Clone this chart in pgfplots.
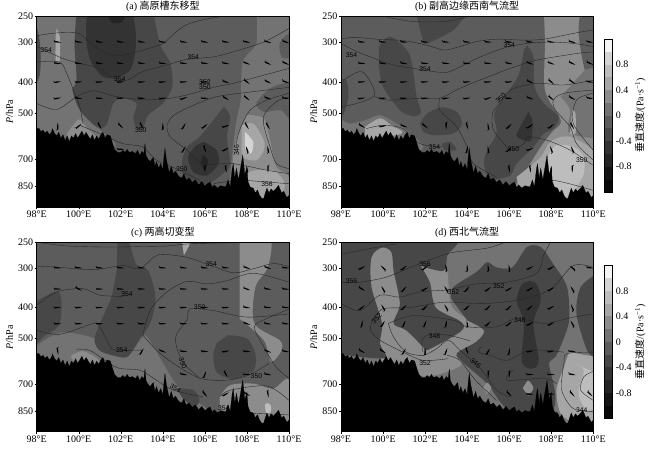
\documentclass[border=0pt]{standalone}
\usepackage{fontspec}
\setmainfont{Liberation Serif}
\newfontfamily\cjk{Noto Sans CJK SC}
\newfontfamily\lbf{Liberation Sans}
\usepackage{pgfplots}
\usepackage{pgfplotstable}
\pgfplotsset{compat=1.18}

% grey shades of the 12 colour bar classes, -1.2 to 1.2
\definecolor{L1}{gray}{.03}\definecolor{L2}{gray}{.08}\definecolor{L3}{gray}{.14}
\definecolor{L4}{gray}{.2}\definecolor{L5}{gray}{.28}\definecolor{L6}{gray}{.36}
\definecolor{L7}{gray}{.45}\definecolor{L8}{gray}{.55}\definecolor{L9}{gray}{.65}
\definecolor{L10}{gray}{.74}\definecolor{L11}{gray}{.83}\definecolor{L12}{gray}{.96}

\pgfdeclareplotmark{barb}{%
  \pgfpathmoveto{\pgfqpoint{-3.5pt}{.65pt}}
  \pgfpathlineto{\pgfqpoint{0pt}{.65pt}}
  \pgfpathlineto{\pgfqpoint{3.2pt}{.1pt}}
  \pgfpathlineto{\pgfqpoint{3.2pt}{-.1pt}}
  \pgfpathlineto{\pgfqpoint{0pt}{-.65pt}}
  \pgfpathlineto{\pgfqpoint{-3.5pt}{-.65pt}}
  \pgfpathclose
  \pgfpathmoveto{\pgfqpoint{-3.5pt}{0pt}}
  \pgfpathlineto{\pgfqpoint{-4.2pt}{1.5pt}}
  \pgfpathlineto{\pgfqpoint{-3.7pt}{1.5pt}}
  \pgfpathlineto{\pgfqpoint{-2.9pt}{0pt}}
  \pgfpathclose
  \pgfusepathqfill}

\pgfplotsset{
  panel/.style={
    scale only axis, width=252.3pt, y dir=reverse,
    xmin=98, xmax=110, ymin=250, ymax=985,
    xtick={98,100,...,110},
    xticklabels={98°E,100°E,102°E,104°E,106°E,108°E,110°E},
    ytick={250,300,400,500,700,850}, yticklabels={250,300,400,500,700,850},
    minor tick length=0pt,
    tick align=outside, major tick length=2pt, tick pos=left,
    tick style={black, line width=.5pt}, axis line style={line width=.8pt},
    axis on top,
    ylabel={\textit{P}/hPa},
    every axis y label/.style={at={(axis description cs:-.108,.5)}, rotate=90, anchor=center},
    every axis title shift=0pt,
    title style={at={(axis description cs:.5,1)}, anchor=south, inner sep=0pt, yshift=4.5pt},
    tick label style={inner sep=1.5pt},
  },
  cbar/.style={
    scale only axis, width=8pt, xmin=0, xmax=1, ymin=-1.2, ymax=1.2,
    xtick=\empty, ytick={-.8,-.4,0,.4,.8}, yticklabels={-0.8,-0.4,0,0.4,0.8},
    yticklabel pos=right, major tick length=0pt, axis on top,
    axis line style={line width=.6pt},
    ylabel={{\cjk 垂直速度}/(Pa·s\textsuperscript{−1})},
    every axis y label/.style={at={(axis description cs:4.5,.5)}, rotate=90, anchor=center},
  },
}
\newcommand\pf[2]{\addplot[fill=#1, draw=none, smooth] coordinates {#2};}
\newcommand\cl[1]{\addplot[black!85, line width=.38pt, smooth] coordinates {#1};}
\newcommand\lb[4][0]{\node[font=\lbf\fontsize{6.8}{7}\selectfont, text=black, inner sep=0pt, rotate=#1] at (axis cs:#2,#3) {#4};}
\newcommand\terr{\addplot[fill=black, draw=black, line width=.2pt] table {\terrain};}
\newcommand\cb{%
  \pgfplotsinvokeforeach{1,...,12}{%
    \pgfmathsetmacro\lo{-1.4+.2*##1}\pgfmathsetmacro\hi{-1.2+.2*##1}%
    \edef\tmp{\noexpand\addplot[fill=L##1, draw=none] coordinates {(0,\lo) (1,\lo) (1,\hi) (0,\hi)} -- cycle;}\tmp}}
% one rotated mark per row of a wind table (lon, hPa, direction)
\newcommand\drawbarbs[1]{%
  \pgfplotstablegetrowsof{#1}\pgfmathtruncatemacro\nr{\pgfplotsretval-1}%
  \pgfplotsinvokeforeach{0,...,\nr}{%
    \pgfplotstablegetelem{##1}{x}\of{#1}\edef\bx{\pgfplotsretval}%
    \pgfplotstablegetelem{##1}{y}\of{#1}\edef\by{\pgfplotsretval}%
    \pgfplotstablegetelem{##1}{a}\of{#1}\edef\ba{\pgfplotsretval}%
    \edef\tmp{\noexpand\addplot[only marks, mark=barb, mark options={fill=black, draw=none, rotate=\ba}] coordinates {(\bx,\by)};}\tmp}}

\pgfplotstableread[row sep=\\]{
x y \\
98 555\\ 98.05 562\\ 98.1 558\\ 98.2 572\\ 98.3 566\\ 98.4 578\\ 98.5 570\\ 98.6 585\\ 98.7 575\\ 98.75 560\\ 98.85 580\\
98.95 590\\ 99.05 575\\ 99.15 600\\ 99.25 585\\ 99.35 610\\ 99.45 590\\ 99.55 615\\ 99.65 590\\ 99.75 600\\ 99.85 580\\
99.95 600\\ 100.05 585\\ 100.15 570\\ 100.25 590\\ 100.35 575\\ 100.45 590\\ 100.55 605\\ 100.65 585\\ 100.75 610\\ 100.85 590\\
100.95 605\\ 101.05 585\\ 101.15 575\\ 101.25 600\\ 101.35 585\\ 101.5 590\\ 101.6 620\\ 101.7 650\\ 101.85 665\\ 102 665\\
102.1 655\\ 102.2 665\\ 102.3 650\\ 102.4 665\\ 102.55 660\\ 102.7 670\\ 102.8 655\\ 102.9 680\\ 103 660\\ 103.1 670\\
103.15 624\\ 103.2 680\\ 103.3 700\\ 103.4 710\\ 103.5 695\\ 103.55 690\\ 103.62 735\\ 103.7 710\\ 103.8 745\\ 103.9 720\\ 104 755\\
104.05 690\\ 104.1 646\\ 104.17 700\\ 104.3 770\\ 104.4 735\\ 104.5 775\\ 104.6 760\\ 104.75 790\\ 104.9 800\\ 105 775\\
105.1 810\\ 105.25 800\\ 105.4 825\\ 105.55 810\\ 105.7 840\\ 105.85 820\\ 106 845\\ 106.15 830\\ 106.25 823\\ 106.35 855\\ 106.45 840\\
106.6 860\\ 106.75 845\\ 106.9 850\\ 107 850\\ 107.1 810\\ 107.2 850\\ 107.3 745\\ 107.35 721\\ 107.42 800\\ 107.5 745\\ 107.6 810\\
107.7 740\\ 107.8 678\\ 107.9 780\\ 108 740\\ 108.05 820\\ 108.15 853\\ 108.3 860\\ 108.4 890\\ 108.5 870\\
108.6 905\\ 108.7 925\\ 108.8 925\\ 108.85 900\\ 108.95 860\\ 109.05 890\\ 109.15 865\\ 109.25 880\\ 109.4 860\\ 109.5 843\\
109.65 890\\ 109.75 880\\ 109.9 920\\ 110 906\\ 110 1100\\ 98 1100\\
}\terrain

\pgfplotstableread[row sep=\\]{
x y a\\
99 300 -8\\ 100 300 -8\\ 101 300 -8\\ 102 300 -8\\ 103 300 -8\\ 104 300 -8\\ 105 300 -8\\ 106 300 -10\\ 107 300 -10\\ 108 300 -10\\ 109 300 -15\\ 109.85 300 -20\\
99 350 -8\\ 100 350 -8\\ 101 350 -8\\ 102 350 -8\\ 103 350 -8\\ 104 350 -8\\ 105 350 -8\\ 106 350 -8\\ 107 350 -10\\ 108 350 -20\\ 109 350 -25\\ 109.85 350 -25\\
99 400 10\\ 100 400 5\\ 101 400 5\\ 102 400 5\\ 103 400 5\\ 104 400 5\\ 105 400 5\\ 106 400 5\\ 107 400 -20\\ 108 400 -40\\ 109 400 -25\\ 109.85 400 -20\\
99 450 10\\ 100 450 -10\\ 101 450 0\\ 102 450 0\\ 103 450 0\\ 104 450 10\\ 105 450 20\\ 106 450 0\\ 107 450 -30\\ 108 450 -40\\ 109 450 -20\\ 109.85 450 -10\\
99 550 90\\ 100 550 40\\ 101 550 -60\\ 102 550 -45\\ 103 550 -60\\ 104 550 90\\ 105 550 60\\ 106 550 40\\ 107 550 20\\ 108 550 -60\\ 109 550 -60\\
102 650 0\\ 105 650 60\\ 106 650 -70\\ 107 650 30\\ 108 650 110\\ 109 650 100\\
106 750 -90\\ 107 750 -80\\ 108 750 100\\ 109 750 -90\\
}\barbsa
\pgfplotstableread[row sep=\\]{
x y a\\
99 300 -5\\ 100 300 -5\\ 101 300 -5\\ 102 300 -5\\ 103 300 -5\\ 104 300 -5\\ 105 300 -5\\ 106 300 -5\\ 107 300 -5\\ 108 300 -10\\ 109 300 -15\\ 109.85 300 -10\\
99 350 -5\\ 100 350 -10\\ 101 350 -10\\ 102 350 -5\\ 103 350 -5\\ 104 350 -5\\ 105 350 -5\\ 106 350 -10\\ 107 350 -20\\ 108 350 -20\\ 109 350 -25\\ 109.85 350 -25\\
99 400 5\\ 100 400 5\\ 101 400 5\\ 102 400 5\\ 103 400 5\\ 104 400 5\\ 105 400 5\\ 106 400 5\\ 107 400 -25\\ 108 400 -40\\ 109 400 -35\\ 109.85 400 -10\\
99 450 10\\ 100 450 5\\ 101 450 5\\ 102 450 5\\ 103 450 10\\ 104 450 10\\ 105 450 20\\ 106 450 0\\ 107 450 -20\\ 108 450 -40\\ 109 450 -30\\ 109.85 450 -10\\
99 550 -30\\ 100 550 10\\ 101 550 -20\\ 102 550 -40\\ 103 550 -90\\ 104 550 -75\\ 105 550 100\\ 106 550 45\\ 107 550 35\\ 108 550 40\\ 109 550 -60\\
104 650 80\\ 105 650 100\\ 106 650 45\\ 107 650 20\\ 108 650 110\\ 109 650 115\\
106 750 -80\\ 107 750 -80\\ 108 750 90\\ 109 750 -90\\
}\barbsb
\pgfplotstableread[row sep=\\]{
x y a\\
99 300 -5\\ 100 300 -5\\ 101 300 -5\\ 102 300 -5\\ 103 300 -5\\ 104 300 -5\\ 105 300 -5\\ 106 300 -5\\ 107 300 -5\\ 108 300 -20\\ 109 300 -20\\ 109.85 300 -5\\
99 350 0\\ 100 350 -30\\ 101 350 0\\ 102 350 0\\ 103 350 0\\ 104 350 0\\ 105 350 0\\ 106 350 0\\ 107 350 0\\ 108 350 -20\\ 109 350 -10\\ 109.85 350 -5\\
99 400 5\\ 100 400 5\\ 101 400 5\\ 102 400 5\\ 103 400 5\\ 104 400 5\\ 105 400 5\\ 106 400 5\\ 107 400 5\\ 108 400 -10\\ 109 400 -5\\ 109.85 400 -5\\
99 450 0\\ 100 450 0\\ 101 450 0\\ 102 450 0\\ 103 450 0\\ 104 450 0\\ 105 450 0\\ 106 450 0\\ 107 450 0\\ 108 450 -20\\ 109 450 -10\\ 109.85 450 -5\\
99 550 -80\\ 103 550 60\\ 104 550 -20\\ 105 550 -5\\ 106 550 0\\ 107 550 10\\ 108 550 0\\ 109 550 -20\\ 109.85 550 -10\\
105 650 -10\\ 106 650 70\\ 107 650 -60\\ 108 650 0\\ 109 650 -10\\
106 750 -50\\ 107 750 30\\ 108 750 -30\\ 109 750 -80\\
}\barbsc
\pgfplotstableread[row sep=\\]{
x y a\\
99 300 30\\ 100 300 135\\ 101 300 40\\ 102 300 40\\ 103 300 100\\ 104 300 90\\ 105 300 95\\ 106 300 100\\ 107 300 30\\ 108 300 30\\ 109 300 140\\ 109.85 300 -10\\
99 350 -30\\ 100 350 120\\ 101 350 50\\ 102 350 30\\ 103 350 120\\ 104 350 50\\ 105 350 40\\ 106 350 30\\ 107 350 30\\ 108 350 30\\ 109 350 120\\
99 400 40\\ 100 400 120\\ 101 400 45\\ 102 400 45\\ 103 400 120\\ 104 400 45\\ 105 400 45\\ 106 400 45\\ 107 400 40\\ 108 400 30\\ 109 400 110\\
99 450 80\\ 100 450 60\\ 101 450 70\\ 102 450 70\\ 103 450 80\\ 104 450 100\\ 105 450 45\\ 106 450 40\\ 107 450 30\\ 108 450 30\\ 109 450 120\\
99 550 -30\\ 100 550 -30\\ 101 550 60\\ 102 550 90\\ 103 550 70\\ 104 550 -70\\ 105 550 60\\ 106 550 80\\ 107 550 10\\ 108 550 10\\ 109 550 0\\
105 650 -90\\ 106 650 -90\\ 107 650 0\\ 108 650 0\\ 109 650 -10\\
106 750 -45\\ 107 750 0\\ 108 750 0\\ 109 750 -50\\ 109.85 750 -45\\
}\barbsd

\begin{document}
\begin{tikzpicture}[x=1pt,y=1pt]
\useasboundingbox (0,0) rectangle (650,449);

% (a)
\begin{semilogyaxis}[panel, at={(36.7pt,242pt)}, anchor=south west, height=190.3pt,
  axis background/.style={fill=L6}, title={(a) {\cjk 高原槽东移型}}]
\pf{L7}{(98,240)(99.9,240)(99.8,303)(99.9,395)(99.7,424)(100.1,490)(100.85,553)(101.65,640)(97.5,600)(97.5,240)}
\pf{L5}{(97.8,240)(98.15,300)(98.15,380)(97.8,420)}
\pf{L9}{(98.95,272)(99.1,290)(99.1,340)(99,345)(98.9,340)(98.9,290)}
\pf{L5}{(99.9,240)(99.8,303)(99.9,395)(99.7,424)(100.05,490)(100.85,553)(101.3,546)(101.65,467)(102.1,450)(102.75,467)(102.6,514)(102.75,560)(103.05,560)(103.3,508)(104,467)(104.45,414)(104.35,350)(103.85,303)(103.55,240)}
\pf{L4}{(100.4,240)(100.35,289)(100.55,342)(101.15,385)(101.8,387)(102.45,367)(102.7,318)(102.7,275)(102.55,240)}
\pf{L3}{(101.3,240)(101.55,260)(102.05,260)(102.3,240)}
\pf{L7}{(108.45,240)(108.45,303)(107.8,346)(107.7,456)(107.45,553)(107.2,794)(107.2,1000)(111,1000)(111,240)}
\pf{L6}{(110.4,282)(110,282)(109.55,303)(109.65,334)(110,338)(110.4,338)}
\pf{L6}{(110.4,400)(110,400)(109.1,419)(108.45,467)(108.8,496)(109.6,490)(110,520)(110.4,520)}
\pf{L8}{(108,508)(108.8,520)(109.1,609)(109.4,738)(110,794)(110,1000)(107.35,1000)(107.35,687)(107.6,580)}
\pf{L9}{(107.75,547)(108.3,540)(108.8,609)(108.8,654)(108.45,703)(107.8,687)(107.75,609)}
\pf{L11}{(107.9,573)(108.3,616)(108.2,670)(107.9,646)}
\pf{L9}{(107.9,800)(108.2,760)(109.3,760)(109.8,850)(109,1000)(108,1000)}
\pf{L5}{(106.9,478)(107.2,514)(107.05,594)(107.2,721)(106.85,775)(106.1,833)(105.15,803)(104.9,721)(105.15,639)(105.75,594)(106.4,527)}
\pf{L4}{(105.95,616)(106.55,654)(106.65,721)(106.1,785)(105.45,765)(105.2,687)(105.6,631)}
\pf{L3}{(105.9,678)(106.15,703)(106,756)(105.8,721)}
\pf{L8}{(99.45,580)(100,524)(100.4,560)(100.8,601)(99.45,624)}
\cl{(98,287)(98.95,281)(100,282)(100.55,303)(101.35,326)(102.1,330)(103.05,318)(104,303)(104.65,278)(105.3,262)(106.55,251)(107.65,248)}
\cl{(98,310)(99.25,338)(100.05,350)(101,363)(101.65,390)(102.3,395)(103.05,371)(104.2,354)(105.15,340)(106.4,334)(107.35,322)(108.8,300)(110,272)}
\cl{(98,347)(99.1,347)(99.45,380)(99.75,424)(100.05,478)(100.2,540)}
\cl{(98,467)(98.95,488)(99.9,445)(100.7,426)(101.8,445)(103.05,454)(104.35,450)(105.45,434)(106.4,416)(107.35,404)(108.8,381)(110,363)}
\cl{(110,416)(108.3,429)(106.55,445)(105.3,478)(104.5,510)(104.2,547)(104.35,594)(105.15,654)(105.9,721)(107.35,721)(108.95,756)(110,775)}
\cl{(110,445)(109.4,461)(108.85,502)(108.8,546)(109.1,639)(109.4,721)(110,747)}
\cl{(107.5,624)(107.65,566)(108.15,490)(108.95,456)(110,434)}
\cl{(100.05,547)(101,580)(102.1,624)(103.05,639)(103.7,703)(104.8,756)(105.75,813)}
\cl{(106.4,833)(107.65,813)(108.95,823)(110,833)}
\drawbarbs{\barbsa}
\terr
\lb{98.45}{318}{354}\lb{105.45}{335}{354}\lb{101.95}{392}{354}\lb{106}{400}{352}\lb{106}{416}{350}
\lb{102.95}{566}{350}\lb[90]{107.5}{654}{346}\lb{108.95}{833}{356}\lb{104.9}{750}{350}
\end{semilogyaxis}

% (b)
\begin{semilogyaxis}[panel, at={(341pt,242pt)}, anchor=south west, height=190.3pt,
  axis background/.style={fill=L6}, title={(b) {\cjk 副高边缘西南气流型}}]
\pf{L7}{(97.8,514)(98.4,540)(99.15,527)(99.85,508)(100.65,540)(101.3,580)(101.75,654)(97.8,654)}
\pf{L5}{(101.55,240)(101.9,296)(102.15,302)(103.35,275)(104.05,240)}
\pf{L5}{(97.8,395)(98.25,395)(98.35,445)(98.1,508)(97.8,508)}
\pf{L5}{(99.8,310)(100.25,289)(100.75,300)(101.3,334)(101.6,445)(101.8,497)(101.45,512)(100.8,490)(100,414)(99.8,354)}
\pf{L5}{(101.75,540)(102.1,502)(102.8,480)(103.5,496)(103.75,540)(103.35,580)(102.4,587)(101.9,573)}
\pf{L8}{(107.65,240)(107.7,303)(107.7,424)(108.35,508)(108.45,540)(108.05,573)(107.5,639)(106.7,775)(106.35,833)(106.35,1050)(111,1050)(111,240)}
\pf{L5}{(106.85,307)(107.15,334)(107.2,414)(107.65,467)(108.35,514)(108.1,560)(107.65,580)(107.15,639)(106.35,721)(106.05,785)(105.1,803)(104.8,721)(104.95,654)(105.4,580)(105.3,502)(105.9,434)(106.45,380)(106.7,318)}
\pf{L4}{(106.9,496)(107.1,527)(107.05,609)(106.7,609)(106.35,587)(106.7,527)}
\pf{L6}{(109.4,240)(109.3,282)(109.6,367)(110,367)(111,367)(111,240)}
\pf{L7}{(109.6,367)(111,367)(111,580)(108.9,580)(108.9,490)(108.45,445)}
\pf{L9}{(109,490)(109.15,502)(109.15,580)(108.9,580)}
\pf{L9}{(106.35,794)(107.5,687)(107.95,616)(108.9,594)(110.2,687)(110.2,1000)(106.7,1000)}
\pf{L10}{(107.8,687)(108.25,631)(109.05,639)(109.55,687)(109.55,775)(109.2,853)(108.75,917)(107.95,895)(107.8,775)}
\pf{L9}{(99.15,553)(99.85,520)(100.4,547)(100.9,580)(99.15,609)}
\pf{L5}{(102.8,624)(103.2,616)(103.5,654)(102.9,654)}
\cl{(98,294)(98.6,290)(99.7,294)(100.95,297)(102.1,307)(102.9,318)(103.65,310)(104.45,299)(105.4,294)(106.7,296)(107.65,294)(109.05,282)(110,275)}
\cl{(100.2,251)(101.45,259)(102.9,259)(104,251)}
\cl{(98,303)(98.6,318)(99.4,334)(100.5,354)(101.45,363)(102.9,374)(103.5,363)(104.45,338)(105.7,314)(106.85,303)(107.95,300)(109.05,303)(110,310)}
\cl{(98.1,395)(98.9,371)(99.3,390)(99.6,440)(98.75,467)(98,478)}
\cl{(99.6,445)(100.25,456)(101.75,450)(102.7,450)(103.65,419)(104.8,390)(106.05,363)(107.3,342)(109.2,326)(110,322)}
\cl{(102.7,450)(102.7,490)(103.5,553)(104,639)(104.3,721)(105.4,794)}
\cl{(110,395)(108.6,409)(107.3,404)(106.05,424)(105.55,467)(105.2,502)(105.25,566)(105.75,624)(106.05,654)(106.7,624)(106.9,594)(107.8,609)(108.9,654)(110,730)}
\cl{(110,424)(108.6,434)(108.1,456)(108.2,490)(108.9,553)(109.2,624)(110,703)}
\cl{(110,434)(109.2,456)(109.05,540)(110,654)}
\cl{(99.2,560)(100,547)(100.95,560)(101.75,624)(102.85,639)}
\cl{(107.3,853)(108.1,813)(110,874)}
\drawbarbs{\barbsb}
\terr
\lb{98.5}{330}{354}\lb{102}{365}{354}\lb{106}{308}{354}\lb{102.45}{639}{354}
\lb[45]{105.6}{450}{350}\lb{106.2}{650}{350}\lb{109.45}{703}{350}
\end{semilogyaxis}

% (c)
\begin{semilogyaxis}[panel, at={(36.7pt,17.3pt)}, anchor=south west, height=189pt,
  axis background/.style={fill=L6}, title={(c) {\cjk 两高切变型}}]
\pf{L7}{(97.8,540)(99.1,480)(100.75,501)(101,547)(101.8,570)(102.35,570)(103,500)(103.3,500)(104.5,680)(105,740)(106,900)(97.8,900)}
\pf{L5}{(101.85,240)(102.3,240)(102.75,294)(103.3,306)(103.65,371)(103.4,449)(102.9,501)(102.35,570)(101.8,570)(101,547)(100.75,501)(101.15,428)(101.55,371)(101.8,306)}
\pf{L5}{(97.8,389)(99.05,357)(99.1,449)(98.3,496)(97.8,540)}
\pf{L5}{(107.1,489)(108,501)(108.4,559)(108.3,633)(107.35,672)(106.55,639)(106.4,566)(106.55,519)}
\pf{L5}{(104.65,719)(105.45,729)(105.75,785)(105.45,824)(104.9,765)}
\pf{L9}{(104.9,245)(105.35,245)(105,274)}
\pf{L8}{(107.65,240)(109.1,240)(109,298)(108.4,345)(108.35,449)(109.55,507)(109.65,545)(109.15,593)(108.8,507)(107.65,434)}
\pf{L8}{(106.7,765)(107.2,703)(108.3,695)(109.25,721)(110,678)(110,1000)(106.7,1000)}
\pf{L10}{(108.85,810)(109,800)(109.15,820)(109.1,860)(108.9,860)}
\pf{L8}{(99.6,570)(100.2,549)(101,593)(99.9,609)}
\cl{(98.2,250)(99.45,256)(101.5,258)(103.05,257)(104.2,256)(105.3,252)(107.35,250)}
\cl{(98,296)(99.1,299)(100.7,304)(102.1,295)(102.9,302)(103.55,278)(104,272)(105.15,278)(106.1,292)(107.35,311)(108.3,302)(109.25,291)(110,297)}
\cl{(98,394)(98.95,357)(100.2,349)(101,366)(102.1,369)}
\cl{(103.05,489)(103.4,408)(104.2,357)(105.15,331)(106.1,337)(107,330)(108.3,312)(110,333)}
\cl{(98,472)(99.1,486)(100.7,449)(101,460)(101.5,532)(101.8,545)(103.05,545)}
\cl{(103.05,489)(103.7,545)(104.5,600)(105.75,668)(107,678)(108.1,653)(109.05,600)}
\cl{(110,419)(108,429)(106.4,409)(105.3,404)(105.15,437)(104.65,486)(104.65,532)(105,600)(105.75,668)}
\cl{(110,405)(108.95,433)(108.35,460)(108.8,532)(109.4,618)(110,668)}
\cl{(99.9,542)(100.55,547)(101.8,618)(102.9,630)(103.7,678)(104.5,729)(105.9,765)}
\cl{(106.7,765)(107.2,729)(108.95,707)(110,785)}
\cl{(108.3,862)(110,872)}
\drawbarbs{\barbsc}
\terr
\lb{106.3}{293}{354}\lb{102.3}{362}{354}\lb{105.75}{400}{350}\lb{102.05}{545}{354}
\lb[-70]{104.95}{600}{350}\lb{108.45}{657}{350}\lb[-30]{104.6}{720}{354}\lb{106.9}{830}{354}
\end{semilogyaxis}

% (d)
\begin{semilogyaxis}[panel, at={(341pt,17.3pt)}, anchor=south west, height=189pt,
  axis background/.style={fill=L7}, title={(d) {\cjk 西北气流型}}]
\pf{L8}{(99.3,270)(100,250)(100.6,260)(100.9,389)(102,470)(102.5,400)(101.6,290)(102,290)(103,300)(103.3,400)(104.9,472)(104.6,520)(103.6,560)(103.7,610)(102,660)(100,600)(99.7,450)(99.3,345)}
\pf{L5}{(97.8,240)(103.3,240)(103.05,275)(102.9,306)(102,299)(101.75,292)(102,312)(102.25,337)(102.5,400)(103.6,439)(103.85,460)(103.5,486)(102.1,545)(101.9,532)(101.1,472)(100.5,449)(100.8,389)(100.5,306)(100.4,268)(99.95,259)(99.45,278)(99.45,345)(99.95,449)(99.85,519)(100.15,572)(99.55,578)(97.8,560)}
\pf{L5}{(103.25,376)(103.35,345)(104.45,309)(104.95,288)(105.4,299)(106.15,299)(106.85,258)(107.5,258)(108.1,292)(108.75,345)(108.85,439)(108.5,519)(108.2,572)(107.9,600)(108.1,695)(108.2,765)(107.95,850)(106.05,850)(104.95,695)(103.85,600)(103.5,559)(104.45,512)(104.8,472)(104,439)}
\pf{L4}{(106.9,330)(107.3,337)(107.5,380)(107.15,449)(107.4,587)(107.1,623)(106.6,594)(106.7,449)(106.35,380)(106.6,337)}
\pf{L5}{(110.2,312)(109.4,345)(109.2,419)(109.7,545)(110.2,587)}
\pf{L9}{(108.85,553)(108.6,618)(108.25,729)(108.45,863)(109.2,927)(110.2,910)(110.2,600)(109.7,566)}
\pf{L10}{(109.05,600)(109.55,630)(109.3,747)(109.7,843)(110.2,803)(110.2,645)}
\pf{L8}{(104.75,719)(104.95,690)(105.15,719)(104.95,750)}
\pf{L8}{(106.65,719)(106.9,680)(107.15,719)(106.9,760)}
\cl{(98,272)(99.2,262)(100.65,252)}
\cl{(98,333)(98.9,333)(100.15,321)(101.3,299)(102.55,278)(103.35,268)(104.95,260)(105.75,250)}
\cl{(98,389)(98.9,409)(99.85,366)(100.8,371)(101.75,357)(103.05,352)(104.45,337)(105.9,333)(107.3,312)(107.65,272)(107.95,250)}
\cl{(99.5,439)(100,404)(101.3,400)(102.9,385)(104.8,389)(106.7,376)(108,349)(109.05,295)(110,299)}
\cl{(99.5,439)(99.4,472)(99.85,507)(100.95,553)(101.9,587)(103.1,580)}
\cl{(100.25,449)(101.45,424)(103.35,439)(104,460)(105.4,460)(106.35,433)(107.65,449)(109.05,429)(110,419)}
\cl{(100.25,449)(100.5,496)(101.1,553)(101.9,566)(102.55,539)(103.1,507)(103.65,545)(104.6,618)(105.4,729)(106.05,765)}
\cl{(101.9,553)(101.85,507)(102.25,486)(103.1,489)(104.15,510)}
\cl{(104.65,532)(104.55,553)(105.1,566)(105.9,587)(107,545)(108.6,553)}
\cl{(106.2,630)(105.9,678)(107.65,668)(108.25,695)}
\cl{(110,553)(108.75,559)(108.6,600)(108.5,729)(109.05,833)(110,850)}
\cl{(110,636)(109.55,661)(109.4,729)(110,785)}
\cl{(103.05,566)(103.65,587)(104.4,678)(105.4,785)}
\drawbarbs{\barbsd}
\terr
\lb{102}{292}{356}\lb{98.5}{331}{356}\lb{103.35}{357}{352}\lb{105.5}{342}{352}\lb[45]{99.7}{433}{352}
\lb{102.45}{493}{348}\lb{106.5}{437}{348}\lb[-40]{104.4}{600}{346}\lb{102}{598}{352}\lb{109.45}{845}{344}
\end{semilogyaxis}

% colour bars
\begin{axis}[cbar, at={(604.3pt,256.7pt)}, anchor=south west, height=153.3pt]
\cb
\end{axis}
\begin{axis}[cbar, at={(604.3pt,30.7pt)}, anchor=south west, height=153pt]
\cb
\end{axis}
\end{tikzpicture}
\end{document}
